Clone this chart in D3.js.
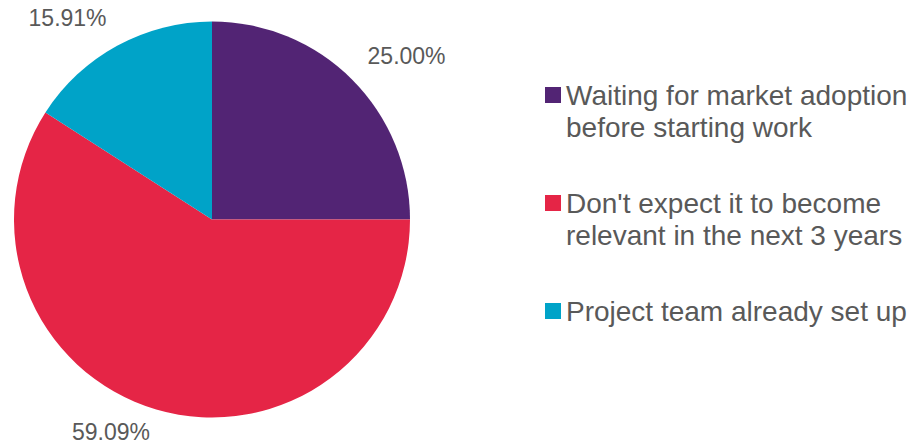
<!DOCTYPE html>
<html><head><meta charset="utf-8">
<script src="https://cdn.jsdelivr.net/npm/d3@7"></script>
<style>body{margin:0;background:#fff}svg{display:block}</style>
</head><body>
<svg id="c" width="913" height="444"></svg>
<script>
const categories = ["Waiting for market adoption before starting work", "Don't expect it to become relevant in the next 3 years", "Project team already set up"];
const legendLines = [["Waiting for market adoption", "before starting work"], ["Don't expect it to become", "relevant in the next 3 years"], ["Project team already set up"]];
const values = [25.00, 59.09, 15.91];
const valueLabels = ["25.00%", "59.09%", "15.91%"];
const colors = ["#522474", "#E52546", "#00A3C8"];

const W = 913, H = 444;
const svg = d3.select("#c");
const cx = 212, cy = 219.5, r = 198;
const font = "Arial, 'Liberation Sans', sans-serif";
const g = svg.append("g").attr("transform", `translate(${cx},${cy})`);
const pie = d3.pie().sort(null).value(d => d)(values);
const arc = d3.arc().innerRadius(0).outerRadius(r);
g.selectAll("path").data(pie).join("path").attr("d", arc).attr("fill", (d, i) => colors[i]);

const fs = 23, gap = 22;
pie.forEach((d, i) => {
  const a = (d.startAngle + d.endAngle) / 2;
  const ux = Math.sin(a), uy = -Math.cos(a);
  const t = g.append("text").text(valueLabels[i]).attr("font-family", font).attr("font-size", fs).attr("fill", "#595959");
  const w = t.node().getBBox().width, h = fs * 0.72;
  const px = ux * (r + gap) + Math.sign(ux) * w / 2;
  let py = uy * (r + gap) + Math.sign(uy) * h / 2;
  // keep the label inside the canvas
  py = Math.max(h / 2 + 4 - cy, Math.min(H - cy - h / 2 - 4, py));
  t.attr("x", px).attr("y", py + h / 2).attr("text-anchor", "middle");
});

const lg = svg.append("g");
const lx = 545, ly0 = 105, itemGap = 108, lineH = 32;
legendLines.forEach((lines, i) => {
  const y = ly0 + i * itemGap;
  lg.append("rect").attr("x", lx).attr("y", y - 18).attr("width", 16).attr("height", 16).attr("fill", colors[i]);
  const t = lg.append("text").attr("font-family", font).attr("font-size", 28).attr("fill", "#595959");
  lines.forEach((l, j) => t.append("tspan").attr("x", lx + 21).attr("y", y + j * lineH).text(l));
});
</script>
</body></html>
